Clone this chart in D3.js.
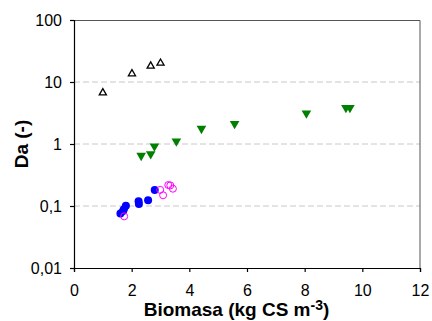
<!DOCTYPE html>
<html>
<head>
<meta charset="utf-8">
<script src="https://cdn.jsdelivr.net/npm/d3@7"></script>
<style>
  body { margin: 0; background: #fff; }
  svg { font-family: "Liberation Sans", Arial, sans-serif; }
  .tick text { font-size: 16px; fill: #000; }
  .axis-title { font-size: 19px; font-weight: bold; }
</style>
</head>
<body>
<svg id="chart" width="432" height="321"></svg>
<script>
// Data
var blackX = [1.0, 2.01, 2.66, 3.0];
var blackY = [6.7, 13.6, 18.1, 20.2];

var greenX = [2.33, 2.66, 2.79, 3.55, 4.42, 5.57, 8.06, 9.43, 9.57];
var greenY = [0.65, 0.69, 0.92, 1.11, 1.77, 2.12, 3.13, 3.85, 3.85];

var blueX = [1.61, 1.70, 1.73, 1.80, 2.24, 2.25, 2.57, 2.80];
var blueY = [0.076, 0.083, 0.0885, 0.101, 0.119, 0.108, 0.124, 0.181];

var pinkX = [1.74, 2.99, 3.09, 3.27, 3.34, 3.43];
var pinkY = [0.068, 0.182, 0.149, 0.218, 0.215, 0.19];

var xTicks = [0, 2, 4, 6, 8, 10, 12];
var yTicks = [0.01, 0.1, 1, 10, 100];
var yTickLabels = ["0,01", "0,1", "1", "10", "100"];

var margins = { top: 20, right: 12, bottom: 53, left: 74 };
var width = 432 - margins.left - margins.right;
var height = 321 - margins.top - margins.bottom;

var svg = d3.select("#chart");
var chart = svg.append("g")
  .attr("transform", `translate(${margins.left},${margins.top})`);

var xScale = d3.scaleLinear().domain([0, 12]).range([0, width]);
var yScale = d3.scaleLog().domain([0.01, 100]).range([height, 0]);

// grid
chart.append("g")
  .selectAll("line")
  .data([0.1, 1, 10])
  .enter()
  .append("line")
  .attr("x1", 0)
  .attr("x2", width)
  .attr("y1", d => yScale(d))
  .attr("y2", d => yScale(d))
  .attr("stroke", "#c8c8c8")
  .attr("stroke-dasharray", "6,3");

// frame (top and right)
chart.append("path")
  .attr("d", `M0,0.5H${width}V${height}`)
  .attr("fill", "none")
  .attr("stroke", "#555")
  .attr("stroke-width", 1);

var xAxis = d3.axisBottom(xScale)
  .tickValues(xTicks)
  .tickSize(4)
  .tickPadding(13)
  .tickFormat(d => d);

var yAxis = d3.axisLeft(yScale)
  .tickValues(yTicks)
  .tickSize(4)
  .tickPadding(8)
  .tickFormat((d, i) => yTickLabels[i]);

chart.append("g")
  .attr("class", "x axis")
  .attr("transform", `translate(0,${height})`)
  .call(xAxis)
  .call(g => g.attr("font-size", null).attr("font-family", null));

chart.append("g")
  .attr("class", "y axis")
  .call(yAxis)
  .call(g => g.attr("font-size", null).attr("font-family", null));

chart.selectAll(".axis path, .axis line").attr("stroke", "#000").attr("stroke-width", 1.2);

function zip(xs, ys) {
  return xs.map((x, i) => ({ x: x, y: ys[i] }));
}

var triUp = d3.symbol().type(d3.symbolTriangle).size(22);
var triDown = d3.symbol().type(d3.symbolTriangle).size(40);

// black open triangles
chart.append("g")
  .selectAll("path")
  .data(zip(blackX, blackY))
  .enter()
  .append("path")
  .attr("d", triUp)
  .attr("transform", d => `translate(${xScale(d.x)},${yScale(d.y)})`)
  .attr("fill", "#fff")
  .attr("stroke", "#000")
  .attr("stroke-width", 1.3);

// green inverted triangles
chart.append("g")
  .selectAll("path")
  .data(zip(greenX, greenY))
  .enter()
  .append("path")
  .attr("d", triDown)
  .attr("transform", d => `translate(${xScale(d.x)},${yScale(d.y)}) rotate(180)`)
  .attr("fill", "#008000");

// blue filled circles
chart.append("g")
  .selectAll("circle")
  .data(zip(blueX, blueY))
  .enter()
  .append("circle")
  .attr("cx", d => xScale(d.x))
  .attr("cy", d => yScale(d.y))
  .attr("r", 4)
  .attr("fill", "#0000ff");

// magenta open circles
chart.append("g")
  .selectAll("circle")
  .data(zip(pinkX, pinkY))
  .enter()
  .append("circle")
  .attr("cx", d => xScale(d.x))
  .attr("cy", d => yScale(d.y))
  .attr("r", 3.5)
  .attr("fill", "none")
  .attr("stroke", "#ff00ff")
  .attr("stroke-width", 1);

// axis titles
var xTitle = svg.append("text")
  .attr("class", "axis-title")
  .attr("x", 236.5)
  .attr("y", 316)
  .attr("text-anchor", "middle");
xTitle.append("tspan").text("Biomasa (kg CS m");
xTitle.append("tspan").attr("dy", -6).attr("font-size", 14).text("-3");
xTitle.append("tspan").attr("dy", 6).text(")");

svg.append("text")
  .attr("class", "axis-title")
  .attr("transform", "translate(28,144) rotate(-90)")
  .attr("text-anchor", "middle")
  .text("Da (-)");
</script>
</body>
</html>
